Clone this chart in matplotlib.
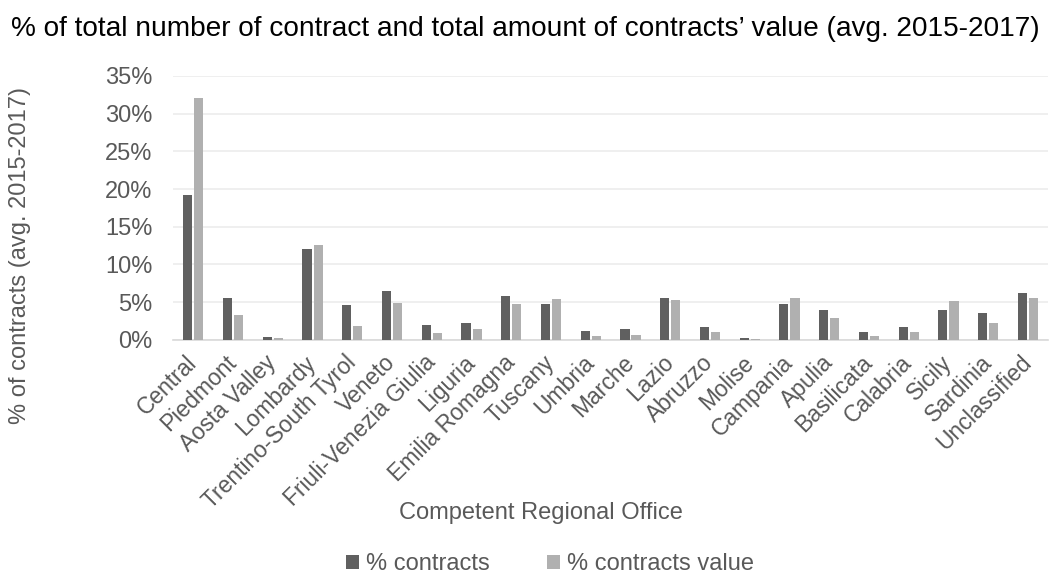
import matplotlib.pyplot as plt
import numpy as np
from matplotlib.ticker import PercentFormatter

plt.rcParams['font.family'] = ['Liberation Sans', 'DejaVu Sans']

regions = ["Central", "Piedmont", "Aosta Valley", "Lombardy", "Trentino-South Tyrol",
           "Veneto", "Friuli-Venezia Giulia", "Liguria", "Emilia Romagna", "Tuscany",
           "Umbria", "Marche", "Lazio", "Abruzzo", "Molise", "Campania", "Apulia",
           "Basilicata", "Calabria", "Sicily", "Sardinia", "Unclassified"]
pct_contracts = [19.2, 5.6, 0.4, 12.1, 4.6, 6.5, 1.9, 2.2, 5.8, 4.7, 1.2, 1.5,
                 5.5, 1.7, 0.3, 4.7, 3.9, 1.1, 1.7, 3.9, 3.5, 6.2]
pct_value = [32.1, 3.3, 0.3, 12.6, 1.8, 4.9, 0.9, 1.5, 4.7, 5.4, 0.5, 0.6,
             5.3, 1.1, 0.1, 5.6, 2.9, 0.5, 1.0, 5.1, 2.2, 5.6]

dark = "#606060"
light = "#b0b0b0"
text_col = "#595959"

fig = plt.figure(figsize=(10.51, 5.75), dpi=100)
ax = fig.add_axes([0.165, 0.409, 0.832, 0.459])

x = np.arange(len(regions))
w = 0.23
ax.bar(x - 0.14, np.array(pct_contracts) / 100, w, color=dark, label="% contracts", zorder=3)
ax.bar(x + 0.14, np.array(pct_value) / 100, w, color=light, label="% contracts value", zorder=3)

ax.set_ylim(0, 0.35)
ax.set_xlim(-0.5, len(regions) - 0.5)
ax.set_yticks(np.arange(0, 0.351, 0.05))
ax.yaxis.set_major_formatter(PercentFormatter(1.0, decimals=0))
ax.grid(axis="y", color="#ececec", linewidth=1.2, zorder=0)
for s in ["top", "right", "left"]:
    ax.spines[s].set_visible(False)
ax.spines["bottom"].set_color("#d9d9d9")
ax.spines["bottom"].set_linewidth(1.2)
ax.tick_params(axis="both", length=0, colors=text_col)
ax.tick_params(axis="y", pad=15, labelsize=17)
ax.tick_params(axis="x", pad=14)
ax.set_xticks(x)
ax.set_xticklabels(regions, rotation=45, ha="right", va="center",
                   rotation_mode="anchor", fontsize=16.5)

# axis titles placed relative to the whole figure, Excel style
fig.text(541 / 1051, 1 - 513 / 575, "Competent Regional Office", color=text_col,
         fontsize=17, ha="center", va="center")
fig.text(20 / 1051, 1 - 255 / 575, "% of contracts (avg. 2015-2017)", color=text_col,
         fontsize=17, rotation=90, ha="center", va="center")

fig.text(0.5, 1 - 29 / 575,
         "% of total number of contract and total amount of contracts\u2019 value (avg. 2015-2017)",
         fontsize=20.2, color="black", ha="center", va="center")

fig.legend(loc="center", bbox_to_anchor=(550 / 1051, 1 - 564 / 575), ncol=2, frameon=False,
           fontsize=17, labelcolor=text_col, handlelength=0.55, handleheight=0.55,
           handletextpad=0.3, columnspacing=2.4)

fig.savefig("out.png", dpi=100)
